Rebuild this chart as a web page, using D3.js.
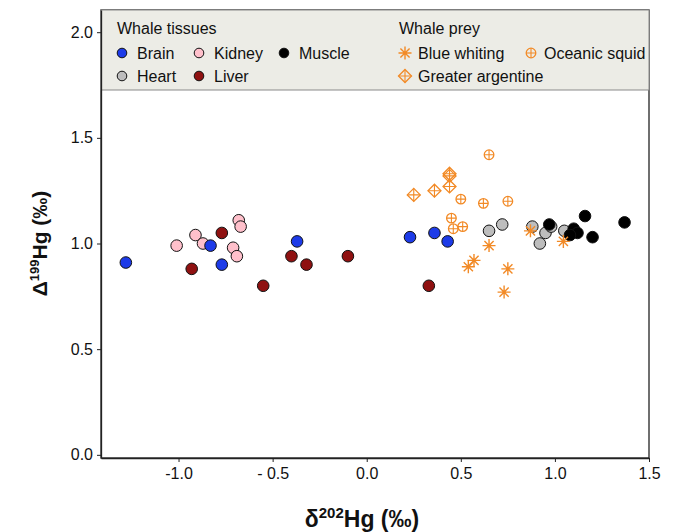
<!DOCTYPE html>
<html>
<head>
<meta charset="utf-8">
<script src="https://cdn.jsdelivr.net/npm/d3@7"></script>
<style>
  body { margin: 0; background: #fff; }
  svg { display: block; font-family: "Liberation Sans", Arial, sans-serif; }
</style>
</head>
<body>
<div id="chart"></div>
<script>
// x = δ202Hg, y = Δ199Hg (‰)
const brain = [[-1.28, 0.91], [-0.83, 0.99], [-0.77, 0.90], [-0.37, 1.01], [0.23, 1.03], [0.36, 1.05], [0.43, 1.01]];
const kidney = [[-1.01, 0.99], [-0.91, 1.04], [-0.87, 1.00], [-0.68, 1.11], [-0.67, 1.08], [-0.71, 0.98], [-0.69, 0.94]];
const liver = [[-0.77, 1.05], [-0.93, 0.88], [-0.55, 0.80], [-0.40, 0.94], [-0.32, 0.90], [-0.10, 0.94], [0.33, 0.80]];
const heart = [[0.65, 1.06], [0.72, 1.09], [0.88, 1.08], [0.95, 1.05], [0.92, 1.00], [1.05, 1.06], [0.98, 1.08]];
const muscle = [[0.97, 1.09], [1.16, 1.13], [1.37, 1.10], [1.10, 1.07], [1.12, 1.05], [1.08, 1.04], [1.20, 1.03]];
const blueWhiting = [[0.87, 1.06], [1.045, 1.01], [0.65, 0.99], [0.57, 0.92], [0.54, 0.89], [0.75, 0.88], [0.73, 0.77]];
const oceanicSquid = [[0.65, 1.42], [0.50, 1.21], [0.62, 1.19], [0.75, 1.20], [0.45, 1.12], [0.46, 1.07], [0.51, 1.08]];
const greaterArgentine = [[0.25, 1.23], [0.36, 1.25], [0.44, 1.27], [0.44, 1.33], [0.44, 1.32]];

const xTicks = [-1.0, -0.5, 0.0, 0.5, 1.0, 1.5];
const yTicks = [0.0, 0.5, 1.0, 1.5, 2.0];

const width = 675, height = 532;
const margin = { top: 10, right: 26, bottom: 74, left: 101 };
const orange = "#f28a26";

const svg = d3.select("#chart").append("svg")
  .attr("width", width).attr("height", height);

const x = d3.scaleLinear().domain([-1.412, 1.5]).range([margin.left, width - margin.right]);
const y = d3.scaleLinear().domain([-0.015, 2.105]).range([height - margin.bottom, margin.top]);

const fmt = (d) => (d === -0.5 ? "- 0.5" : d3.format(".1f")(d).replace("−", "-"));

// frame
svg.append("rect")
  .attr("x", x.range()[0]).attr("y", y.range()[1])
  .attr("width", x.range()[1] - x.range()[0])
  .attr("height", y.range()[0] - y.range()[1])
  .attr("fill", "none").attr("stroke", "#222").attr("stroke-width", 1.3);

// legend box
svg.append("rect")
  .attr("x", x.range()[0]).attr("y", y.range()[1])
  .attr("width", x.range()[1] - x.range()[0]).attr("height", 80)
  .attr("fill", "#ecece6").attr("stroke", "#8a8a8a").attr("stroke-width", 1);

const xAxis = svg.append("g")
  .attr("transform", `translate(0,${y.range()[0]})`)
  .call(d3.axisBottom(x).tickValues(xTicks).tickFormat(fmt).tickSize(4).tickPadding(6).tickSizeOuter(0));
const yAxis = svg.append("g")
  .attr("transform", `translate(${x.range()[0]},0)`)
  .call(d3.axisLeft(y).tickValues(yTicks).tickFormat(fmt).tickSize(4).tickPadding(4).tickSizeOuter(0));

[xAxis, yAxis].forEach((g) => {
  g.select(".domain").attr("stroke", "#222").attr("stroke-width", 1.3);
  g.selectAll(".tick line").attr("stroke", "#222");
  g.selectAll(".tick text").attr("font-size", 16).attr("fill", "#111")
    .attr("font-family", "'Liberation Sans', Arial, sans-serif");
});

// symbols
function circleMark(g, fill) {
  g.append("circle").attr("r", 5.8).attr("fill", fill).attr("stroke", "#111").attr("stroke-width", 1);
}
function asterisk(g, s) {
  const p = d3.path();
  for (let a = 0; a < 4; a++) {
    const t = a * Math.PI / 4;
    p.moveTo(-s * Math.cos(t), -s * Math.sin(t));
    p.lineTo(s * Math.cos(t), s * Math.sin(t));
  }
  g.append("path").attr("d", p.toString()).attr("stroke", orange).attr("stroke-width", 1.4).attr("fill", "none");
}
function crossCircle(g, r) {
  g.append("circle").attr("r", r).attr("fill", "#fff").attr("fill-opacity", 0).attr("stroke", orange).attr("stroke-width", 1.3);
  g.append("path").attr("d", `M${-r},0H${r}M0,${-r}V${r}`).attr("stroke", orange).attr("stroke-width", 1.1);
}
function crossDiamond(g, r) {
  g.append("path").attr("d", `M0,${-r}L${r},0L0,${r}L${-r},0Z`).attr("fill", "none").attr("stroke", orange).attr("stroke-width", 1.3);
  g.append("path").attr("d", `M${-r},0H${r}M0,${-r}V${r}`).attr("stroke", orange).attr("stroke-width", 1.1);
}

const series = [
  { data: kidney, draw: (g) => circleMark(g, "#ffc0cb") },
  { data: heart, draw: (g) => circleMark(g, "#bdbdbd") },
  { data: liver, draw: (g) => circleMark(g, "#8f1111") },
  { data: brain, draw: (g) => circleMark(g, "#1d3be8") },
  { data: muscle, draw: (g) => circleMark(g, "#000") },
  { data: oceanicSquid, draw: (g) => crossCircle(g, 4.8) },
  { data: greaterArgentine, draw: (g) => crossDiamond(g, 6.5) },
  { data: blueWhiting, draw: (g) => asterisk(g, 6.5) }
];

const plot = svg.append("g");
series.forEach((s) => {
  plot.append("g").selectAll("g")
    .data(s.data)
    .join("g")
    .attr("transform", (d) => `translate(${x(d[0])},${y(d[1])})`)
    .each(function () { s.draw(d3.select(this)); });
});

// legend
const legend = svg.append("g").attr("font-size", 16).attr("fill", "#111");
legend.append("text").attr("x", 117).attr("y", 34).text("Whale tissues");
legend.append("text").attr("x", 399).attr("y", 34).text("Whale prey");

const legendItems = [
  { label: "Brain", cx: 122, cy: 53, draw: (g) => g.append("circle").attr("r", 4.8).attr("fill", "#1d3be8").attr("stroke", "#111") },
  { label: "Kidney", cx: 199, cy: 53, draw: (g) => g.append("circle").attr("r", 4.8).attr("fill", "#ffc0cb").attr("stroke", "#111") },
  { label: "Muscle", cx: 284, cy: 53, draw: (g) => g.append("circle").attr("r", 4.8).attr("fill", "#000").attr("stroke", "#111") },
  { label: "Heart", cx: 122, cy: 76, draw: (g) => g.append("circle").attr("r", 4.8).attr("fill", "#bdbdbd").attr("stroke", "#111") },
  { label: "Liver", cx: 199, cy: 76, draw: (g) => g.append("circle").attr("r", 4.8).attr("fill", "#8f1111").attr("stroke", "#111") },
  { label: "Blue whiting", cx: 405, cy: 53, draw: (g) => asterisk(g, 6.5) },
  { label: "Oceanic squid", cx: 531, cy: 53, draw: (g) => crossCircle(g, 4.8) },
  { label: "Greater argentine", cx: 405, cy: 76, draw: (g) => crossDiamond(g, 6.5) }
];
legendItems.forEach((d) => {
  const g = legend.append("g").attr("transform", `translate(${d.cx},${d.cy})`);
  d.draw(g);
  legend.append("text").attr("x", d.cx + (d.cx > 400 ? 13 : 15)).attr("y", d.cy + 5.5).text(d.label);
});

// axis titles
const xTitle = svg.append("text")
  .attr("x", 362).attr("y", 527).attr("text-anchor", "middle")
  .attr("font-size", 23).attr("font-weight", "bold").attr("fill", "#111");
xTitle.append("tspan").text("δ");
xTitle.append("tspan").attr("font-size", 15).attr("dy", -9).text("202");
xTitle.append("tspan").attr("dy", 9).text("Hg (‰)");

const yTitle = svg.append("text")
  .attr("transform", `translate(47,${y(1.0)}) rotate(-90)`)
  .attr("text-anchor", "middle")
  .attr("font-size", 21).attr("font-weight", "bold").attr("fill", "#111");
yTitle.append("tspan").text("Δ");
yTitle.append("tspan").attr("font-size", 13).attr("dy", -8).text("199");
yTitle.append("tspan").attr("dy", 8).text("Hg (‰)");
</script>
</body>
</html>
